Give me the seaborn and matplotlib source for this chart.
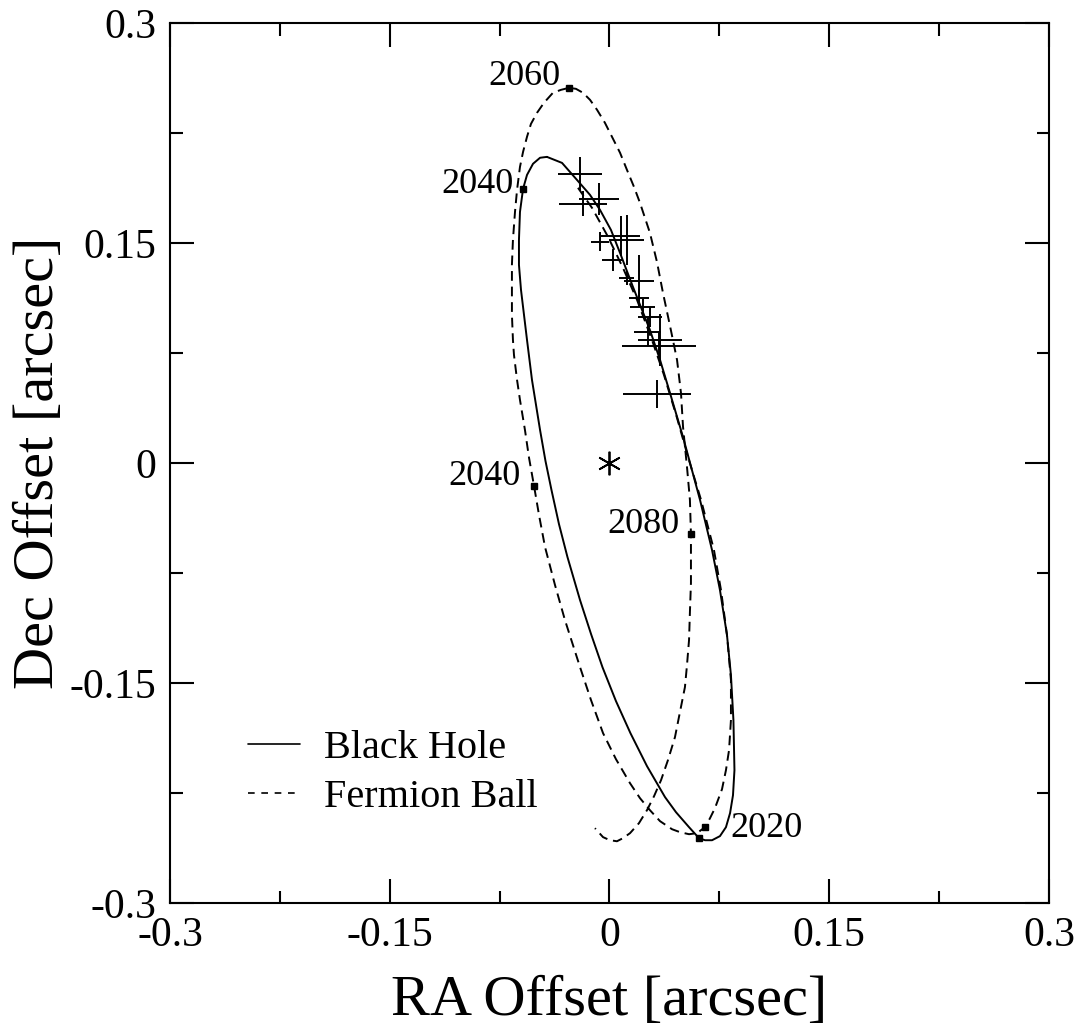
import matplotlib
matplotlib.use("Agg")
import matplotlib.pyplot as plt
import numpy as np
import pandas as pd
import seaborn as sns

# orbits (arcsec)
bh_ra = [-0.0427, -0.0324, -0.0222, -0.0133, -0.0065, 0.0010, 0.0072, 0.0160, 0.0276, 0.0345,
         0.0413, 0.0502, 0.0618, 0.0700, 0.0754, 0.0802, 0.0829, 0.0846, 0.0853, 0.0843,
         0.0823, 0.0795, 0.0754, 0.0700, 0.0652, 0.0611, 0.0543, 0.0454, 0.0379, 0.0256,
         0.0143, 0.0044, -0.0048, -0.0126, -0.0201, -0.0287, -0.0345, -0.0396, -0.0437, -0.0474,
         -0.0529, -0.0563, -0.0604, -0.0618, -0.0618, -0.0611, -0.0590, -0.0563, -0.0522, -0.0474,
         -0.0427]
bh_dec = [0.2087, 0.2046, 0.1930, 0.1828, 0.1726, 0.1589, 0.1432, 0.1201, 0.0907, 0.0703,
          0.0477, 0.0177, -0.0252, -0.0594, -0.0866, -0.1173, -0.1446, -0.1753, -0.2094, -0.2265,
          -0.2387, -0.2483, -0.2544, -0.2572, -0.2572, -0.2558, -0.2483, -0.2381, -0.2278, -0.2067,
          -0.1842, -0.1623, -0.1392, -0.1166, -0.0935, -0.0641, -0.0416, -0.0184, 0.0014, 0.0225,
          0.0566, 0.0839, 0.1180, 0.1351, 0.1521, 0.1712, 0.1869, 0.1964, 0.2040, 0.2081,
          0.2087]

fb_ra = [-0.0215, -0.0119, -0.0010, 0.0092, 0.0188, 0.0290, 0.0372, 0.0461, 0.0536, 0.0625,
         0.0713, 0.0761, 0.0802, 0.0829, 0.0829, 0.0816, 0.0795, 0.0768, 0.0720, 0.0686,
         0.0652, 0.0597, 0.0543, 0.0481, 0.0427, 0.0345, 0.0276, 0.0208, 0.0140, 0.0044,
         -0.0044, -0.0126, -0.0201, -0.0304, -0.0372, -0.0440, -0.0481, -0.0515, -0.0549, -0.0577,
         -0.0611, -0.0631, -0.0652, -0.0659, -0.0666, -0.0666, -0.0666, -0.0659, -0.0645, -0.0631,
         -0.0611, -0.0590, -0.0563, -0.0536, -0.0495, -0.0447, -0.0386, -0.0331, -0.0276, -0.0229,
         -0.0181, -0.0133, -0.0085, -0.0031, 0.0017, 0.0072, 0.0119, 0.0167, 0.0208, 0.0276,
         0.0324, 0.0365, 0.0413, 0.0461, 0.0488, 0.0502, 0.0529, 0.0549, 0.0556, 0.0556,
         0.0549, 0.0543, 0.0529, 0.0515, 0.0481, 0.0447, 0.0399, 0.0352, 0.0304, 0.0256,
         0.0201, 0.0140, 0.0092, 0.0051, 0.0003, -0.0044, -0.0099]
fb_dec = [0.1876, 0.1739, 0.1542, 0.1330, 0.1112, 0.0839, 0.0600, 0.0307, 0.0041, -0.0252,
          -0.0593, -0.0866, -0.1173, -0.1480, -0.1753, -0.1958, -0.2094, -0.2224, -0.2353, -0.2422,
          -0.2483, -0.2524, -0.2531, -0.2517, -0.2497, -0.2442, -0.2367, -0.2285, -0.2183, -0.2019,
          -0.1842, -0.1617, -0.1392, -0.1071, -0.0832, -0.0573, -0.0355, -0.0157, 0.0034, 0.0225,
          0.0430, 0.0566, 0.0737, 0.0839, 0.1010, 0.1180, 0.1351, 0.1521, 0.1712, 0.1862,
          0.2019, 0.2121, 0.2224, 0.2312, 0.2387, 0.2456, 0.2524, 0.2544, 0.2558, 0.2551,
          0.2524, 0.2476, 0.2408, 0.2319, 0.2224, 0.2115, 0.1999, 0.1883, 0.1774, 0.1569,
          0.1371, 0.1160, 0.0935, 0.0703, 0.0477, 0.0246, -0.0027, -0.0252, -0.0484, -0.0819,
          -0.1016, -0.1207, -0.1378, -0.1528, -0.1698, -0.1869, -0.2026, -0.2162, -0.2272, -0.2367,
          -0.2456, -0.2524, -0.2558, -0.2579, -0.2572, -0.2551, -0.2490]

# year marks
bh_year = ["2040", "2020"]
bh_year_ra = [-0.0590, 0.0611]
bh_year_dec = [0.1869, -0.2558]
fb_year = ["2020", "2040", "2060", "2080"]
fb_year_ra = [0.0652, -0.0515, -0.0276, 0.0556]
fb_year_dec = [-0.2483, -0.0157, 0.2558, -0.0484]

# astrometric data with errors
obs_ra = [-0.0201, -0.0179, -0.0072, -0.0065, 0.0078, 0.0117, 0.0022, 0.0201, 0.0119, 0.0204,
          0.0227, 0.0276, 0.0261, 0.0345, 0.0338, 0.0322]
obs_dec = [0.1969, 0.1767, 0.1801, 0.1510, 0.1548, 0.1521, 0.1385, 0.1241, 0.1262, 0.1124,
           0.1062, 0.0998, 0.0896, 0.0839, 0.0800, 0.0471]
obs_ra_err = [0.0151, 0.0164, 0.0134, 0.0063, 0.0133, 0.0119, 0.0070, 0.0102, 0.0051, 0.0068,
              0.0087, 0.0082, 0.0093, 0.0148, 0.0253, 0.0232]
obs_dec_err = [0.0116, 0.0085, 0.0108, 0.0063, 0.0136, 0.0168, 0.0074, 0.0176, 0.0048, 0.0063,
               0.0055, 0.0068, 0.0095, 0.0176, 0.0100, 0.0095]

bh = pd.DataFrame({"ra": bh_ra, "dec": bh_dec})
fb = pd.DataFrame({"ra": fb_ra, "dec": fb_dec})

sns.set_theme(style="ticks")
plt.rcParams["font.family"] = ["Liberation Serif", "DejaVu Serif"]
plt.rcParams["text.color"] = "black"
plt.rcParams["axes.labelcolor"] = "black"

fig = plt.figure(figsize=(10.82, 10.30), dpi=100)
ax = fig.add_axes([0.1571, 0.1233, 0.8124, 0.8544])

sns.lineplot(data=bh, x="ra", y="dec", sort=False, estimator=None, color="black",
             lw=1.4, label="Black Hole", ax=ax)
sns.lineplot(data=fb, x="ra", y="dec", sort=False, estimator=None, color="black",
             lw=1.4, ls=(0, (5, 3)), label="Fermion Ball", ax=ax)

ax.plot(bh_year_ra, bh_year_dec, "s", color="black", ms=4.5)
ax.plot(fb_year_ra, fb_year_dec, "s", color="black", ms=4.5)

# label offsets in points
lab_off = {("bh", "2040"): (-7, 3, "right"),
           ("fb", "2020"): (18, -1, "left"), ("fb", "2040"): (-10, 7, "right"),
           ("fb", "2060"): (-6, 8, "right"), ("fb", "2080"): (-8, 7, "right")}
for yr, xx, yy in zip(bh_year, bh_year_ra, bh_year_dec):
    if ("bh", yr) not in lab_off:
        continue
    dx, dy, ha = lab_off[("bh", yr)]
    ax.annotate(yr, (xx, yy), xytext=(dx, dy), textcoords="offset points",
                ha=ha, va="center", fontsize=26)
for yr, xx, yy in zip(fb_year, fb_year_ra, fb_year_dec):
    dx, dy, ha = lab_off[("fb", yr)]
    ax.annotate(yr, (xx, yy), xytext=(dx, dy), textcoords="offset points",
                ha=ha, va="center", fontsize=26)

ax.errorbar(obs_ra, obs_dec, xerr=obs_ra_err, yerr=obs_dec_err, fmt="none",
            ecolor="black", elinewidth=1.4, capsize=0)

ax.plot([0], [0], marker=(6, 2, 0), color="black", ms=17, mew=1.3, ls="none")

ax.set_xlim(-0.3, 0.3)
ax.set_ylim(-0.3, 0.3)
ticks = [-0.3, -0.15, 0, 0.15, 0.3]
tick_labels = ["-0.3", "-0.15", "0", "0.15", "0.3"]
ax.set_xticks(ticks)
ax.set_xticklabels(tick_labels)
ax.set_yticks(ticks)
ax.set_yticklabels(tick_labels)
ax.set_xticks(np.arange(-0.3, 0.31, 0.075), minor=True)
ax.set_yticks(np.arange(-0.3, 0.31, 0.075), minor=True)
ax.tick_params(which="both", direction="in", top=True, right=True, width=1.5,
               colors="black", labelsize=30, pad=10)
ax.tick_params(which="major", length=17)
ax.tick_params(which="minor", length=9)
for s in ax.spines.values():
    s.set_linewidth(1.5)
    s.set_color("black")

ax.set_xlabel("RA Offset [arcsec]", fontsize=42, labelpad=14)
ax.set_ylabel("Dec Offset [arcsec]", fontsize=42, labelpad=3)

leg = ax.legend(loc="upper left", bbox_to_anchor=(0.07, 0.215), frameon=False,
                fontsize=29, handlelength=1.3, handletextpad=0.6, labelspacing=0.3,
                borderaxespad=0)
leg.get_lines()[1].set_linestyle((0, (4, 4)))
for ln in leg.get_lines():
    ln.set_linewidth(1.2)

fig.savefig("out.png", dpi=100)
